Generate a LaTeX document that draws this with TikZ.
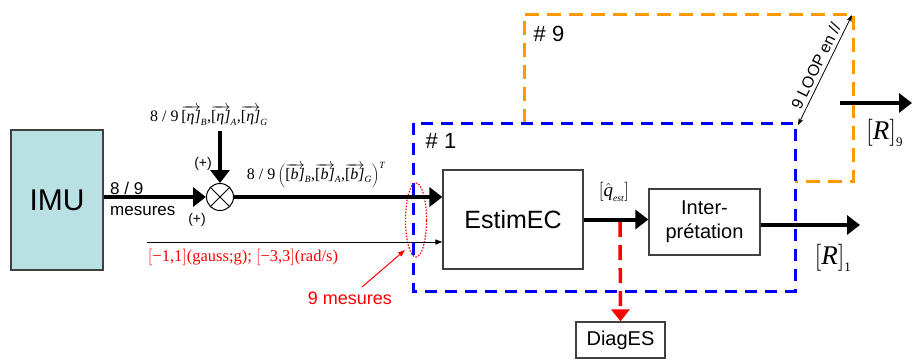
\RequirePackage{fix-cm}
\documentclass[tikz,border=0pt]{standalone}
\usepackage{fontspec}
\setmainfont{Liberation Sans}
\newfontfamily\tms{Liberation Serif}
\usetikzlibrary{arrows.meta}
\definecolor{imufill}{HTML}{B9E0E3}
\definecolor{orng}{HTML}{FF9900}
\definecolor{boxline}{HTML}{404040}
\newcommand{\tv}[1]{\overrightarrow{\mbox{[\itshape #1\/]}}}
\newcommand{\ts}[1]{\mbox{\fontsize{9.5}{11}\selectfont\tms\itshape #1}}
\begin{document}
\begin{tikzpicture}[x=1pt,y=-1pt,
  box/.style={draw=boxline, line width=1.2pt, fill=white, inner sep=0pt},
  bigarr/.style={line width=4pt, -{Triangle[length=13pt,width=19pt]}},
  thinarr/.style={line width=1pt, -{Triangle[length=7pt,width=5pt]}},
  fr/.style={line width=3pt, dash pattern=on 12pt off 8pt},
  lbl/.style={inner sep=0pt}
]
\useasboundingbox (0,0) rectangle (912,360);

% frames
\draw[fr, orng, dash pattern=on 14pt off 8pt] (524,123) -- (524,14) -- (853,14) -- (853,181) -- (795,181);
\draw[fr, blue] (413,123) rectangle (795,291);

% nodes
\node[box, fill=imufill, minimum width=92pt, minimum height=140pt, font=\fontsize{30}{36}\selectfont] (imu) at (57,200) {IMU};
\node[draw, circle, minimum size=27pt, inner sep=0pt, line width=1pt] (ot) at (220,197) {};
\draw[line width=1pt] (ot.45) -- (ot.225) (ot.135) -- (ot.315);
\node[box, minimum width=140pt, minimum height=99pt, font=\fontsize{25}{30}\selectfont] (est) at (513,219.5) {EstimEC};
\node[box, minimum width=111pt, minimum height=66pt, align=center, font=\fontsize{20}{24}\selectfont] (int) at (704.5,222) {Inter-\\prétation};
\node[box, minimum width=89pt, minimum height=36pt, font=\fontsize{20}{24}\selectfont] (dia) at (620.5,340) {DiagES};

% coordinates
\coordinate (etaTop) at (220,131);
\coordinate (thinS) at (147,242);
\coordinate (qs) at (620,222);
\coordinate (r1) at (860,225);
\coordinate (r9s) at (840,103);
\coordinate (r9e) at (912,103);
\coordinate (loopA) at (798,125);
\coordinate (loopB) at (852,15);
\coordinate (annS) at (362,287);
\coordinate (annE) at (405,250);

% red dotted ellipse
\draw[red, line width=1.2pt, dash pattern=on 1.5pt off 1.5pt] (416,220) ellipse [x radius=10.5pt, y radius=37pt];

% connectors
\draw[bigarr] (imu.east |- ot) -- (ot.west);
\draw[bigarr] (etaTop) -- (ot.north);
\draw[bigarr] (ot.east) -- (est.west |- ot);
\draw[thinarr] (thinS) -- (est.west |- thinS);
\draw[bigarr] (est.east) -- (int.west |- est.east);
\draw[bigarr] (int.east |- r1) -- (r1);
\draw[bigarr] (r9s) -- (r9e);
\draw[red, line width=3.5pt, dash pattern=on 15pt off 8pt, -{Triangle[length=12pt,width=18pt]}] (qs) -- (dia.north);
\draw[red, line width=1pt, -{Triangle[length=7pt,width=5pt]}] (annS) -- (annE);
\draw[line width=0.8pt, {Stealth[length=7pt,width=5pt]}-{Stealth[length=7pt,width=5pt]}] (loopA) -- (loopB);

% labels
\node[lbl, anchor=base west, font=\fontsize{17}{20}\selectfont] at (110,194) {8 / 9};
\node[lbl, anchor=base west, font=\fontsize{17}{20}\selectfont] at (110,215) {mesures};
\node[lbl, font=\fontsize{14}{17}\selectfont] at (203,164) {(+)};
\node[lbl, font=\fontsize{14}{17}\selectfont] at (197,220) {(+)};
\node[lbl, font=\fontsize{16}{19}\selectfont\tms] at (209,116) {$\mbox{8 / 9}\,\tv{η}_{\ts{B}}\mbox{,}\tv{η}_{\ts{A}}\mbox{,}\tv{η}_{\ts{G}}$};
\node[lbl, font=\fontsize{16}{19}\selectfont\tms] at (316,175) {$\mbox{8 / 9}\left(\tv{b}_{\ts{B}}\mbox{,}\tv{b}_{\ts{A}}\mbox{,}\tv{b}_{\ts{G}}\right)^{\ts{T}}$};
\node[lbl, text=red, font=\fontsize{16.5}{19}\selectfont\tms] at (243,257) {$\Bigl[\mbox{−1,1}\Bigr]$(gauss;g); $\Bigl[\mbox{−3,3}\Bigr]$(rad/s)};
\node[lbl, text=red, font=\fontsize{18}{22}\selectfont] at (350,298) {9 mesures};
\node[lbl, font=\fontsize{22}{26}\selectfont] at (441,141) {\# 1};
\node[lbl, font=\fontsize{22}{26}\selectfont] at (549,34) {\# 9};
\node[lbl, font=\fontsize{19}{22}\selectfont\tms] at (614,192) {$\biggl[\hat{\mbox{\itshape q}}_{\ts{est}}\biggr]$};
\node[lbl, font=\fontsize{27}{32}\selectfont\tms] at (833,258) {$\Bigl[\mbox{\itshape R}\Bigr]_{\mbox{\fontsize{13}{15}\selectfont 1}}$};
\node[lbl, anchor=west, font=\fontsize{27}{32}\selectfont\tms] at (866,133) {$\Bigl[\mbox{\itshape R}\Bigr]_{\mbox{\fontsize{13}{15}\selectfont 9}}$};
\node[lbl, rotate=63.9, anchor=south, inner sep=4pt, font=\fontsize{16}{19}\selectfont] at (825,70) {9 LOOP en //};
\end{tikzpicture}
\end{document}
